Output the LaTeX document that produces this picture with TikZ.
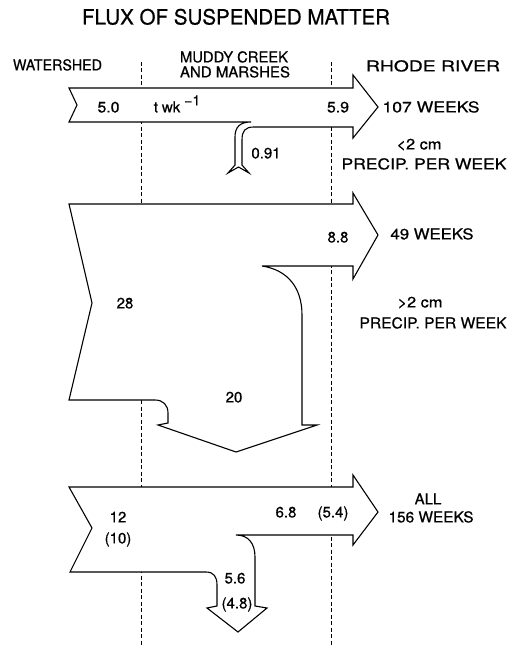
\documentclass[tikz,border=0pt]{standalone}
\usepackage{fontspec}
\setmainfont{TeX Gyre Heros}[FakeBold=0.6]
\usepackage{graphicx}
\newlength\fitlen
\newcommand\fitx[2]{\settowidth{\fitlen}{#2}\pgfmathsetmacro\fitr{#1/\fitlen}\scalebox{\fitr}[1]{#2}}
\tikzset{
  flow/.style={draw, line width=1.1pt, fill=white, line join=miter},
  divider/.style={line width=0.7pt, dash pattern=on 4pt off 2.5pt},
  lbl/.style={font=\fontsize{15}{17}\selectfont, inner sep=0pt, anchor=base},
  ttl/.style={font=\fontsize{21}{24}\selectfont, inner sep=0pt, anchor=base}
}
\begin{document}
\begin{tikzpicture}[x=1pt,y=-1pt]
\useasboundingbox (0,0) rectangle (517,647);
% dividers
\coordinate (d1t) at (141,62); \coordinate (d1b) at (141,647);
\coordinate (d2t) at (331,62); \coordinate (d2b) at (331,647);
\draw[divider] (d1t) -- (d1b);
\draw[divider] (d2t) -- (d2b);
% flow 1 (<2 cm)
\draw[flow] (69,88) -- (353,88) -- (353,75) -- (378,107) -- (353,138) -- (353,127) -- (254,127)
  .. controls (245,127) and (242,131) .. (242,140) -- (242,165) -- (249,173) -- (238.5,167) -- (228,173) -- (235,165)
  -- (235,137) .. controls (235,127) and (240,122) .. (251,122) -- (69,122) -- (77,105) -- cycle;
% flow 2 (>2 cm)
\draw[flow] (69,204) -- (353,204) -- (353,193) -- (378,235) -- (353,279) -- (353,266) -- (262,266)
  .. controls (288,270) and (302,288) .. (302,315) -- (302,425) -- (317,425) -- (236,452) -- (158,425) -- (168,423)
  -- (168,413) .. controls (168,405) and (163,400) .. (155,400) -- (69,400) -- (92,303) -- cycle;
% flow 3 (all)
\draw[flow] (69,487) -- (353,487) -- (353,475) -- (378,512) -- (353,545) -- (353,535) -- (236,535)
  .. controls (248,535) and (255,543) .. (255,557) -- (255,606) -- (267,608) -- (238,632) -- (207,608) -- (217,606)
  -- (217,585) .. controls (217,577) and (214,572) .. (206,572) -- (70,572) -- (92,528) -- cycle;
% texts
\node[ttl] (title) at (236,24.5) {\fitx{308}{FLUX OF SUSPENDED MATTER}};
\node[lbl] (ws) at (57.5,70.4) {\fitx{89}{WATERSHED}};
\node[lbl] (mc1) at (234,62.4) {\fitx{108}{MUDDY CREEK}};
\node[lbl] (mc2) at (235,77.4) {\fitx{110}{AND MARSHES}};
\node[lbl] (rr) at (433,71.4) {\fitx{134}{RHODE RIVER}};
\node[lbl] (a1) at (108.5,112.4) {\fitx{22}{5.0}};
\node[lbl] (u1) at (177,112.4) {t\hspace{4pt}wk\hspace{4pt}\raisebox{7pt}{\fontsize{14}{14}\selectfont −1}};
\node[lbl] (b1) at (338,112.4) {\fitx{22}{5.9}};
\node[lbl] (w1) at (431,112.4) {\fitx{97}{107 WEEKS}};
\node[lbl] (c1) at (419,149.4) {\fitx{45}{<2 cm}};
\node[lbl] (p1) at (424,169.4) {\fitx{165}{PRECIP. PER WEEK}};
\node[lbl] (e1) at (266,158.4) {0.91};
\node[lbl] (b2) at (338,242.4) {8.8};
\node[lbl] (w2) at (432,239.4) {\fitx{83}{49 WEEKS}};
\node[lbl] (c2) at (420,307.4) {\fitx{45}{>2 cm}};
\node[lbl] (p2) at (433,328.4) {\fitx{147}{PRECIP. PER WEEK}};
\node[lbl] (a2) at (125,308.4) {28};
\node[lbl] (m2) at (234,402.4) {20};
\node[lbl] (a3) at (118,522.4) {12};
\node[lbl] (a3b) at (118,543.4) {(10)};
\node[lbl] (b3) at (286,517.4) {6.8};
\node[lbl] (b3b) at (333,517.4) {(5.4)};
\node[lbl] (w3a) at (428,504.4) {ALL};
\node[lbl] (w3b) at (431,522.4) {\fitx{85}{156 WEEKS}};
\node[lbl] (m3) at (235,583.4) {5.6};
\node[lbl] (m3b) at (237,608.4) {(4.8)};
\end{tikzpicture}
\end{document}
